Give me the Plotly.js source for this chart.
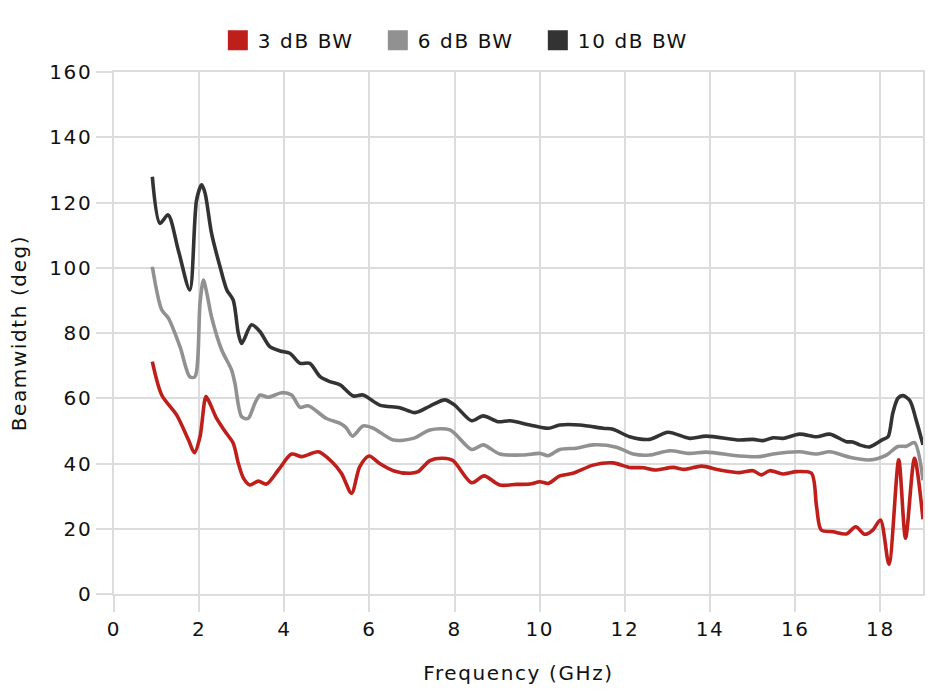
<!DOCTYPE html>
<html>
<head>
<meta charset="utf-8">
<script src="https://cdn.plot.ly/plotly-3.0.1.min.js"></script>
<style>html,body{margin:0;padding:0;background:#fff;}#chart{width:930px;height:696px;}
#chart svg text{letter-spacing:1.6px;}</style>
</head>
<body>
<div id="chart"></div>
<script>
// Frequency (GHz) and beamwidth (deg) for each series
const freq3 = [0.9,1.12,1.47,1.75,1.89,2.02,2.16,2.25,2.41,2.61,2.80,2.92,3.04,3.19,3.39,3.58,3.86,4.17,4.41,4.80,5.11,5.34,5.58,5.77,5.99,6.24,6.56,6.95,7.14,7.42,7.73,7.96,8.40,8.69,9.06,9.45,9.77,10.0,10.2,10.47,10.78,11.25,11.72,12.11,12.43,12.70,13.13,13.40,13.80,14.23,14.69,15.01,15.20,15.40,15.71,16.03,16.38,16.50,16.61,16.89,17.20,17.42,17.63,17.82,18.0,18.20,18.43,18.59,18.80,19.0];
const bw3 = [71.2,61.0,54.9,47.2,43.3,48.2,60.5,58.5,53.8,49.8,46.2,40.1,35.5,33.4,34.6,33.7,38.0,42.9,42.1,43.6,40.6,37.0,30.9,39.0,42.3,40.0,37.8,37.0,37.5,40.9,41.6,40.9,34.1,36.2,33.4,33.6,33.7,34.4,33.9,36.2,37.0,39.5,40.2,38.8,38.7,38.0,38.8,38.2,39.2,38.0,37.2,37.8,36.5,37.8,36.8,37.5,37.0,26.8,19.6,19.1,18.4,20.6,18.3,19.6,22.7,9.1,41.1,17.1,41.6,22.9];

const freq6 = [0.9,1.12,1.28,1.55,1.78,1.90,2.02,2.10,2.18,2.29,2.53,2.76,2.84,3.0,3.15,3.31,3.43,3.62,3.94,4.17,4.37,4.56,4.99,5.31,5.45,5.60,5.85,6.09,6.56,7.03,7.42,7.89,8.40,8.67,9.06,9.61,10.0,10.2,10.47,10.86,11.25,11.80,12.19,12.58,13.05,13.52,13.91,14.69,15.16,15.48,16.10,16.50,16.81,17.28,17.75,18.14,18.41,18.61,18.80,19.0];
const bw6 = [100.3,87.1,84.5,75.8,66.6,66.6,89.1,96.2,92.2,85.0,74.8,68.7,64.6,54.3,53.8,58.5,61.0,60.3,61.7,61.0,57.2,57.7,53.8,52.3,51.0,48.4,51.5,50.8,47.2,47.7,50.3,50.3,44.3,45.7,42.9,42.6,43.1,42.4,44.3,44.7,45.7,45.0,42.9,42.6,43.9,43.1,43.5,42.3,42.1,42.9,43.6,42.9,43.6,41.9,41.1,42.6,45.2,45.3,46.4,34.9];

const freq10 = [0.9,1.08,1.27,1.51,1.78,1.94,2.06,2.14,2.29,2.49,2.65,2.80,2.92,3.0,3.23,3.43,3.66,3.9,4.13,4.37,4.6,4.84,5.07,5.31,5.62,5.85,6.24,6.71,7.07,7.42,7.77,8.0,8.40,8.67,9.02,9.30,9.77,10.20,10.47,10.94,11.49,11.72,12.11,12.58,13.01,13.52,13.91,14.69,15.01,15.24,15.48,15.71,16.10,16.50,16.81,17.20,17.35,17.51,17.75,18.06,18.18,18.29,18.41,18.53,18.69,18.84,19.0];
const bw10 = [127.9,113.6,116.2,105.4,93.2,120.8,125.4,122.8,110.6,100.3,93.2,90.1,79.9,76.8,82.5,80.4,75.8,74.5,73.8,70.7,70.7,66.6,65.1,64.1,60.7,61.0,57.9,57.1,55.6,57.6,59.5,57.9,53.1,54.6,52.8,53.1,51.8,50.8,51.8,51.8,50.8,50.5,48.2,47.4,49.6,47.7,48.4,47.2,47.4,47.0,47.9,47.7,49.0,48.2,49.0,46.7,46.6,45.7,45.1,47.4,48.2,55.4,60.0,60.8,59.3,53.3,45.7];

const seriesNames = ["3 dB BW", "6 dB BW", "10 dB BW"];
const seriesColors = ["#bf1f1b", "#919191", "#333333"];
const xTicks = [0,2,4,6,8,10,12,14,16,18];
const yTicks = [0,20,40,60,80,100,120,140,160];

const FONT = "DejaVu Sans, Montserrat, sans-serif";
const GRID = "#dcdcdc";
const TXT = "#111";

const xs = [freq3, freq6, freq10];
const ys = [bw3, bw6, bw10];
const traces = [];
for (let i = 0; i < 3; i++) {
  traces.push({
    x: xs[i], y: ys[i], type: "scatter", mode: "lines",
    line: {color: seriesColors[i], width: 3.6, shape: "spline", smoothing: 0.8},
    showlegend: false, hoverinfo: "x+y", name: seriesNames[i]
  });
}
for (let i = 0; i < 3; i++) {
  traces.push({
    x: [null], y: [null], type: "scatter", mode: "markers", name: seriesNames[i],
    marker: {symbol: "square", size: 16, color: seriesColors[i], line: {color: seriesColors[i], width: 4}},
    showlegend: true
  });
}

const layout = {
  width: 930, height: 696,
  margin: {l: 114, r: 7, t: 72, b: 102, autoexpand: false},
  paper_bgcolor: "#fff", plot_bgcolor: "#fff",
  font: {family: FONT, size: 20, color: TXT},
  showlegend: true,
  legend: {
    orientation: "h", x: 0.425, xanchor: "center",
    y: 1.061, yanchor: "middle",
    entrywidth: 115, entrywidthmode: "pixels",
    font: {family: FONT, size: 20, color: TXT},
    itemclick: false, tracegroupgap: 0
  },
  xaxis: {
    range: [0, 19], tickvals: xTicks, ticktext: xTicks.map(String), tickangle: 0,
    showgrid: true, gridcolor: GRID, gridwidth: 1.5,
    zeroline: false, showline: true, linecolor: GRID, linewidth: 1.5, mirror: true,
    ticks: "outside", ticklen: 16, tickcolor: GRID, tickwidth: 1.5,
    tickfont: {family: FONT, size: 20, color: TXT},
    title: {text: "Frequency (GHz)", font: {family: FONT, size: 20, color: TXT}, standoff: 26},
    fixedrange: true, automargin: false
  },
  yaxis: {
    range: [0, 160], tickvals: yTicks, ticktext: yTicks.map(String),
    showgrid: true, gridcolor: GRID, gridwidth: 1.5,
    zeroline: false, showline: true, linecolor: GRID, linewidth: 1.5, mirror: true,
    ticks: "outside", ticklen: 16, tickcolor: GRID, tickwidth: 1.5,
    tickfont: {family: FONT, size: 20, color: TXT},
    title: {text: "Beamwidth (deg)", font: {family: FONT, size: 20, color: TXT}, standoff: 22},
    fixedrange: true, automargin: false
  }
};

Plotly.newPlot("chart", traces, layout, {displayModeBar: false, responsive: false});
</script>
</body>
</html>
